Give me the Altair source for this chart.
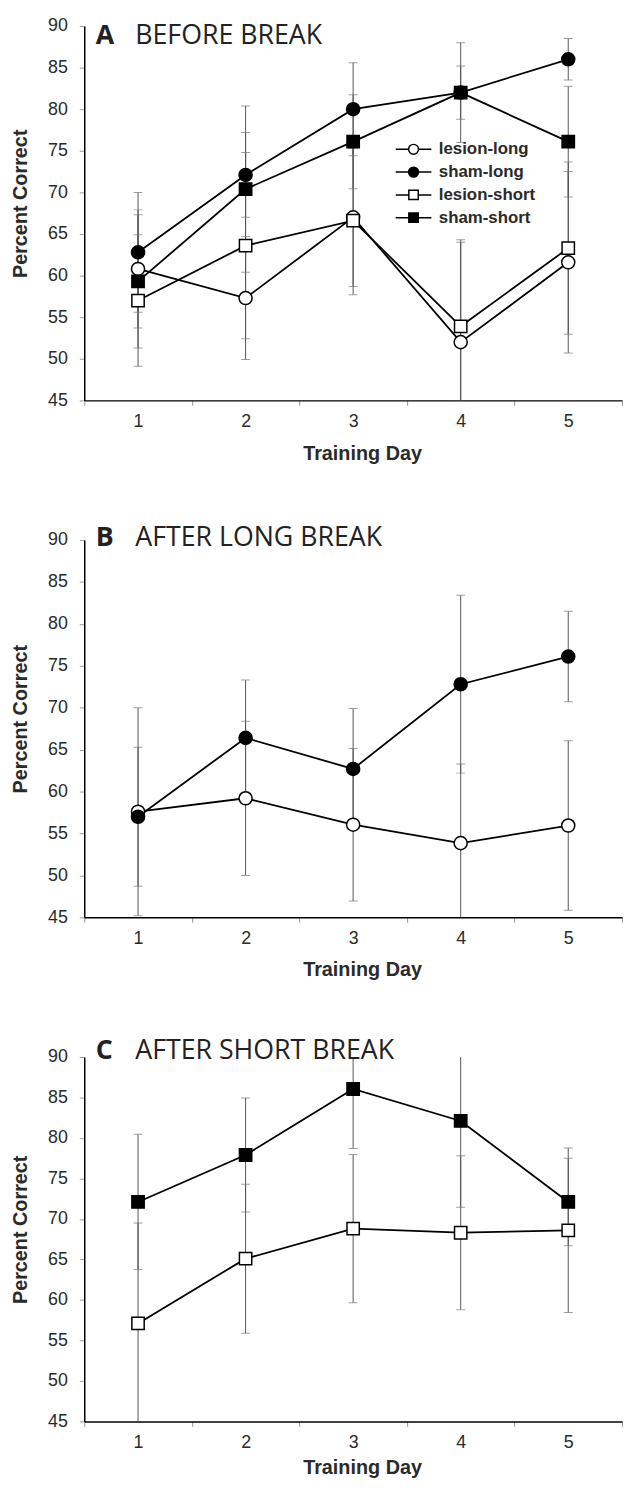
import altair as alt
import pandas as pd

days = [1, 2, 3, 4, 5]
series_names = ["lesion-long", "sham-long", "lesion-short", "sham-short"]

# Panel A (before break)
a_lesion_long = [60.8, 57.3, 67.0, 52.0, 61.6]
a_lesion_long_err = [7.1, 7.4, 8.3, 12.0, 10.9]
a_sham_long = [62.8, 72.1, 80.0, 82.0, 86.0]
a_sham_long_err = [7.2, 5.1, 5.6, 6.0, 2.5]
a_lesion_short = [57.0, 63.6, 66.6, 53.9, 63.3]
a_lesion_short_err = [7.9, 11.2, 8.9, 10.4, 10.35]
a_sham_short = [59.3, 70.4, 76.1, 82.0, 76.1]
a_sham_short_err = [8.0, 10.0, 5.65, 3.2, 6.65]

# Panel B (after long break)
b_lesion_long = [57.6, 59.2, 56.05, 53.85, 55.95]
b_lesion_long_err = [12.4, 9.2, 9.1, 9.45, 10.1]
b_sham_long = [57.0, 66.4, 62.7, 72.8, 76.1]
b_sham_long_err = [8.3, 6.9, 7.2, 10.6, 5.4]

# Panel C (after short break)
c_lesion_short = [57.1, 65.1, 68.8, 68.3, 68.6]
c_lesion_short_err = [12.4, 9.2, 9.15, 9.5, 10.15]
c_sham_short = [72.1, 77.9, 86.05, 82.1, 72.1]
c_sham_short_err = [8.35, 7.05, 7.35, 10.65, 5.4]

panel_letters = ["A", "B", "C"]
panel_titles = ["BEFORE BREAK", "AFTER LONG BREAK", "AFTER SHORT BREAK"]
y_ticks = [45, 50, 55, 60, 65, 70, 75, 80, 85, 90]
x_ticks = [0.5, 1, 1.5, 2, 2.5, 3, 3.5, 4, 4.5, 5, 5.5]

marker_shape = {"lesion-long": "circle", "sham-long": "circle",
                "lesion-short": "square", "sham-short": "square"}
marker_fill = {"lesion-long": "white", "sham-long": "black",
               "lesion-short": "white", "sham-short": "black"}
marker_size = {"circle": 175, "square": 155}

legend_paths = [
    "M-3.6,0L-1,0M1,0L3.6,0M1,0A1,1,0,1,1,-1,0A1,1,0,1,1,1,0Z",
    "M-3.6,0L-1,0M1,0L3.6,0M1,0A1,1,0,1,1,-1,0A1,1,0,1,1,1,0Z",
    "M-3.6,0L-1,0M1,0L3.6,0M-0.95,-0.95L0.95,-0.95L0.95,0.95L-0.95,0.95Z",
    "M-3.6,0L-1,0M1,0L3.6,0M-0.95,-0.95L0.95,-0.95L0.95,0.95L-0.95,0.95Z",
]

FONT = "Liberation Sans"
TITLE_FONT = "Open Sans"
PLOT_W = 543


def make_df(entries):
    rows = []
    for name, means, errs in entries:
        for d, m, e in zip(days, means, errs):
            rows.append({"series": name, "day": d, "mean": m, "lo": m - e, "hi": m + e})
    return pd.DataFrame(rows)


def panel(df, series_list, idx, height, x_title_pad, title_y, show_legend=False):
    xaxis = alt.Axis(
        values=x_ticks,
        labelExpr="datum.value % 1 === 0 ? format(datum.value, 'd') : ''",
        tickOpacity={"condition": {"test": "datum.value % 1 === 0", "value": 0}, "value": 1},
        tickSize=5, tickColor="#999999", tickWidth=1,
        domainColor="black", domainWidth=1.5,
        labelFont=FONT, labelFontSize=18, labelColor="#2a2a2a", labelPadding=7,
        title="Training Day", titleFont=FONT, titleFontSize=20, titleFontWeight="bold",
        titleColor="#2a2a2a", titlePadding=x_title_pad, titleX=PLOT_W / 2 + 9, grid=False,
    )
    yaxis = alt.Axis(
        values=y_ticks, tickSize=5, tickColor="#999999", tickWidth=1,
        domainColor="black", domainWidth=1.5,
        labelFont=FONT, labelFontSize=18, labelColor="#2a2a2a", labelPadding=12,
        title="Percent Correct", titleFont=FONT, titleFontSize=20, titleFontWeight="bold",
        titleColor="#2a2a2a", titlePadding=17, titleY=height / 2 - 10, grid=False,
    )
    xs = alt.Scale(domain=[0.5, 5.5], nice=False, zero=False)
    ys = alt.Scale(domain=[45, 90], nice=False, zero=False)

    def X():
        return alt.X("day:Q", scale=xs, axis=xaxis)

    def Y(f):
        return alt.Y(f + ":Q", scale=ys, axis=yaxis)

    base = alt.Chart(df)
    rules = base.mark_rule(color="#555555", strokeWidth=1, clip=True).encode(
        x=X(), y=Y("lo"), y2="hi:Q")
    cap_hi = base.mark_tick(color="#777777", thickness=1, size=9, orient="horizontal", clip=True).encode(
        x=X(), y=Y("hi"))
    cap_lo = base.mark_tick(color="#777777", thickness=1, size=9, orient="horizontal", clip=True).encode(
        x=X(), y=Y("lo"))
    line = base.mark_line(color="black", strokeWidth=1.8).encode(
        x=X(), y=Y("mean"), detail="series:N")
    layers = [rules, cap_hi, cap_lo, line]
    for s in series_list:
        shp = marker_shape[s]
        pts = base.transform_filter(alt.datum.series == s).mark_point(
            shape=shp, filled=True, fill=marker_fill[s], stroke="black",
            strokeWidth=1.5, size=marker_size[shp], opacity=1,
        ).encode(x=X(), y=Y("mean"))
        layers.append(pts)

    if show_legend:
        leg = alt.Legend(
            title=None, orient="none", legendX=324, legendY=116, padding=0,
            symbolSize=100, symbolStrokeWidth=1.5, symbolStrokeColor="black",
            symbolOpacity=1,
            labelFont=FONT, labelFontWeight="bold", labelFontSize=17,
            labelColor="#2a2a2a", labelOffset=17, rowPadding=5,
        )
        legend_layer = base.transform_filter("false").mark_point(
            filled=False, strokeWidth=1.5, opacity=1
        ).encode(
            x=X(), y=Y("mean"),
            shape=alt.Shape("series:N", scale=alt.Scale(domain=series_names, range=legend_paths), legend=leg),
            fill=alt.Fill("series:N", scale=alt.Scale(domain=series_names,
                                                      range=["white", "black", "white", "black"]), legend=leg),
            stroke=alt.Stroke("series:N", scale=alt.Scale(domain=series_names,
                                                          range=["black", "black", "black", "black"]), legend=leg),
        )
        layers.append(legend_layer)

    letter = alt.Chart(pd.DataFrame({"t": [panel_letters[idx]]})).mark_text(
        font=TITLE_FONT, fontWeight="bold", fontSize=27, align="left",
        baseline="alphabetic", color="#222222",
    ).encode(x=alt.value(11.5), y=alt.value(title_y), text="t:N")
    ttl = alt.Chart(pd.DataFrame({"t": [panel_titles[idx]]})).mark_text(
        font=TITLE_FONT, fontWeight="normal", fontSize=27, align="left",
        baseline="alphabetic", color="#222222",
    ).encode(x=alt.value(51.5), y=alt.value(title_y), text="t:N")
    layers += [letter, ttl]

    return alt.layer(*layers).properties(width=PLOT_W, height=height)


dfA = make_df([
    ("lesion-long", a_lesion_long, a_lesion_long_err),
    ("sham-long", a_sham_long, a_sham_long_err),
    ("lesion-short", a_lesion_short, a_lesion_short_err),
    ("sham-short", a_sham_short, a_sham_short_err),
])
dfB = make_df([
    ("lesion-long", b_lesion_long, b_lesion_long_err),
    ("sham-long", b_sham_long, b_sham_long_err),
])
dfC = make_df([
    ("lesion-short", c_lesion_short, c_lesion_short_err),
    ("sham-short", c_sham_short, c_sham_short_err),
])

pA = panel(dfA, ["lesion-long", "sham-long", "lesion-short", "sham-short"], 0, 378, 14, 18, True)
pB = panel(dfB, ["lesion-long", "sham-long"], 1, 381, 13, 6)
pC = panel(dfC, ["lesion-short", "sham-short"], 2, 368, 7, 2)

chart = alt.vconcat(pA, pB, pC, spacing=141, bounds="flush").properties(
    padding={"left": 2, "top": 2, "right": 1, "bottom": 2}
).configure_view(stroke=None)

chart.save("out.html", embed_options={"renderer": "svg", "actions": False})
